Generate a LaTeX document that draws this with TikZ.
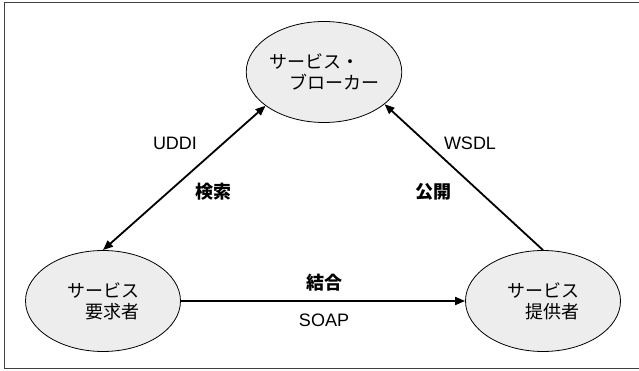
\documentclass[tikz,border=0pt]{standalone}
\usepackage{fontspec}
\setmainfont{Liberation Sans}
\newfontfamily\jp{Noto Sans CJK JP}
\usetikzlibrary{shapes.geometric,arrows.meta}

\begin{document}
\begin{tikzpicture}[x=1pt,y=-1pt,
  party/.style={ellipse, draw=black, line width=0.8pt, fill=black!7,
    minimum width=155pt, minimum height=101pt, inner sep=0pt, align=left,
    font=\jp\fontsize{18}{21}\selectfont},
  link/.style={line width=1.8pt, >={Triangle[length=10pt,width=8pt]}},
  proto/.style={font=\fontsize{18}{20}\selectfont},
  act/.style={font=\jp\bfseries\fontsize{18}{20}\selectfont}]

  \useasboundingbox (0,0) rectangle (639,371);

  % outer frame (open on the right)
  \draw[line width=1pt, black!75] (639,3) -- (4,3) -- (4,368) -- (639,368);

  % the three roles
  \node[party] (broker) at (324,72) {サービス・\\\hspace*{20pt}ブローカー};
  \node[party] (req) at (103,301) {サービス\\\hspace*{18pt}要求者};
  \node[party] (prov) at (543,301) {サービス\\\hspace*{18pt}提供者};

  % interactions
  \draw[link,<->] (req.north) -- (broker.210);
  \draw[link,->] (prov.north) -- (broker.332);
  \draw[link,->] (req.east) -- (prov.west);

  % labels
  \node[proto] (uddi) at (175,143) {UDDI};
  \node[act] (search) at (213,192) {検索};
  \node[proto] (wsdl) at (470,143) {WSDL};
  \node[act] (pub) at (433,192) {公開};
  \node[act] (bind) at (324,283) {結合};
  \node[proto] (soap) at (324,320) {SOAP};
\end{tikzpicture}
\end{document}
